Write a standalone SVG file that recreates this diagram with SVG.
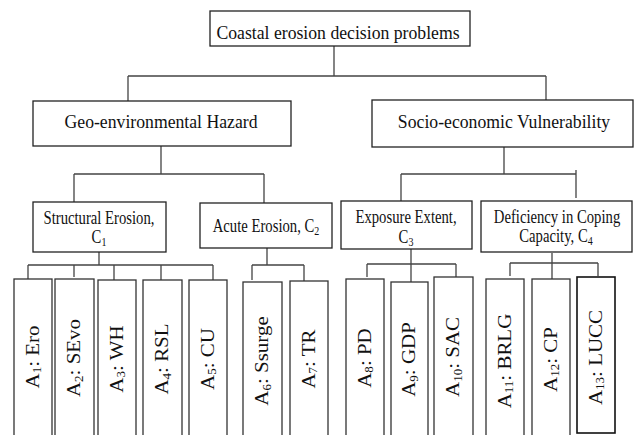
<svg xmlns="http://www.w3.org/2000/svg" width="635" height="435" viewBox="0 0 635 435">
<style>
.box{fill:#fff;stroke:#222;stroke-width:1.3}
.leaf{fill:#fff;stroke:#333;stroke-width:1.3}
.con{fill:none;stroke:#444;stroke-width:1.3}
text{font-family:"Liberation Serif","Times New Roman",serif;fill:#111;text-anchor:middle}
.t1{font-size:17.7px}
.t2{font-size:14.7px}
.t3{font-size:21px}
.s2{font-size:10px}
.s3{font-size:13px}
</style>
<rect width="635" height="435" fill="#fff"/>
<g id="connectors">
<path class="con" d="M334,46V76M128,76H546M128,76V101M546,76V100"/>
<path class="con" d="M161,146V174M74,174H264M74,174V202M264,174V203"/>
<path class="con" d="M504,147V174M401,174H576M401,174V201M576,170V198"/>
<path class="con" d="M99,252V265M28,265H213M28,265V279M74,265V277M114,265V282M161,265V281M213,265V280"/>
<path class="con" d="M267,248V265M252,265H304M252,265V280M304,265V281"/>
<path class="con" d="M411,249V282M367,264H456M367,264V277M456,264V277"/>
<path class="con" d="M552,253V282M510,263H598M510,263V276M598,263V276"/>
</g>
<g id="root">
<rect class="box" x="210" y="11" width="260" height="35"/>
<text class="t1" transform="translate(338,39) scale(1,1.1)">Coastal erosion decision problems</text>
</g>
<g id="geo">
<rect class="box" x="33" y="101" width="258" height="45"/>
<text class="t1" transform="translate(161,128) scale(1,1.1)">Geo-environmental Hazard</text>
</g>
<g id="socio">
<rect class="box" x="372" y="100" width="261" height="47"/>
<text class="t1" transform="translate(504,128) scale(1,1.1)">Socio-economic Vulnerability</text>
</g>
<g id="c1">
<rect class="box" x="33" y="202" width="133" height="50"/>
<text class="t2" transform="translate(99,224) scale(1,1.25)">Structural Erosion,</text>
<text class="t2" transform="translate(99,243) scale(1,1.25)">C<tspan class="s2" dy="2">1</tspan></text>
</g>
<g id="c2">
<rect class="box" x="200" y="203" width="132" height="45"/>
<text class="t2" transform="translate(266,232) scale(1,1.25)">Acute Erosion, C<tspan class="s2" dy="2">2</tspan></text>
</g>
<g id="c3">
<rect class="box" x="341" y="201" width="131" height="48"/>
<text class="t2" transform="translate(406,223) scale(1,1.25)">Exposure Extent,</text>
<text class="t2" transform="translate(406,243) scale(1,1.25)">C<tspan class="s2" dy="2">3</tspan></text>
</g>
<g id="c4">
<rect class="box" x="481" y="201" width="151" height="51"/>
<text class="t2" transform="translate(557,223) scale(1,1.25)">Deficiency in Coping</text>
<text class="t2" transform="translate(556,242) scale(1,1.25)">Capacity, C<tspan class="s2" dy="2">4</tspan></text>
</g>
<g id="a1"><rect class="leaf" x="14" y="279" width="38" height="165"/>
<text class="t3" transform="translate(38.5,357) rotate(-90) scale(1,0.885)">A<tspan class="s3" dy="3">1</tspan><tspan dy="-3">: Ero</tspan></text></g>
<g id="a2"><rect class="leaf" x="55" y="279" width="39" height="165"/>
<text class="t3" transform="translate(80,358) rotate(-90) scale(1,0.885)">A<tspan class="s3" dy="3">2</tspan><tspan dy="-3">: SEvo</tspan></text></g>
<g id="a3"><rect class="leaf" x="98" y="280" width="38" height="165"/>
<text class="t3" transform="translate(122.5,359) rotate(-90) scale(1,0.885)">A<tspan class="s3" dy="3">3</tspan><tspan dy="-3">: WH</tspan></text></g>
<g id="a4"><rect class="leaf" x="143" y="280" width="39" height="165"/>
<text class="t3" transform="translate(168,359) rotate(-90) scale(1,0.885)">A<tspan class="s3" dy="3">4</tspan><tspan dy="-3">: RSL</tspan></text></g>
<g id="a5"><rect class="leaf" x="189" y="280" width="38" height="165"/>
<text class="t3" transform="translate(213.5,359) rotate(-90) scale(1,0.885)">A<tspan class="s3" dy="3">5</tspan><tspan dy="-3">: CU</tspan></text></g>
<g id="a6"><rect class="leaf" x="243" y="282" width="39" height="165"/>
<text class="t3" transform="translate(268,361) rotate(-90) scale(1,0.885)">A<tspan class="s3" dy="3">6</tspan><tspan dy="-3">: Ssurge</tspan></text></g>
<g id="a7"><rect class="leaf" x="290" y="281" width="38" height="165"/>
<text class="t3" transform="translate(314.5,359) rotate(-90) scale(1,0.885)">A<tspan class="s3" dy="3">7</tspan><tspan dy="-3">: TR</tspan></text></g>
<g id="a8"><rect class="leaf" x="346" y="279" width="38" height="165"/>
<text class="t3" transform="translate(370.5,358) rotate(-90) scale(1,0.885)">A<tspan class="s3" dy="3">8</tspan><tspan dy="-3">: PD</tspan></text></g>
<g id="a9"><rect class="leaf" x="391" y="282" width="37" height="165"/>
<text class="t3" transform="translate(415,359.5) rotate(-90) scale(1,0.885)">A<tspan class="s3" dy="3">9</tspan><tspan dy="-3">: GDP</tspan></text></g>
<g id="a10"><rect class="leaf" x="434" y="277" width="39" height="165"/>
<text class="t3" transform="translate(459,357) rotate(-90) scale(1,0.885)">A<tspan class="s3" dy="3">10</tspan><tspan dy="-3">: SAC</tspan></text></g>
<g id="a11"><rect class="leaf" x="486" y="279" width="38" height="165"/>
<text class="t3" transform="translate(510.5,361) rotate(-90) scale(1,0.885)">A<tspan class="s3" dy="3">11</tspan><tspan dy="-3">: BRLG</tspan></text></g>
<g id="a12"><rect class="leaf" x="532" y="279" width="38" height="165"/>
<text class="t3" transform="translate(556.5,359.5) rotate(-90) scale(1,0.885)">A<tspan class="s3" dy="3">12</tspan><tspan dy="-3">: CP</tspan></text></g>
<g id="a13"><rect class="leaf" x="577" y="277" width="38" height="156" style="stroke:#111;stroke-width:1.6"/>
<text class="t3" transform="translate(601.5,357.5) rotate(-90) scale(1,0.885)">A<tspan class="s3" dy="3">13</tspan><tspan dy="-3">: LUCC</tspan></text></g>
</svg>
